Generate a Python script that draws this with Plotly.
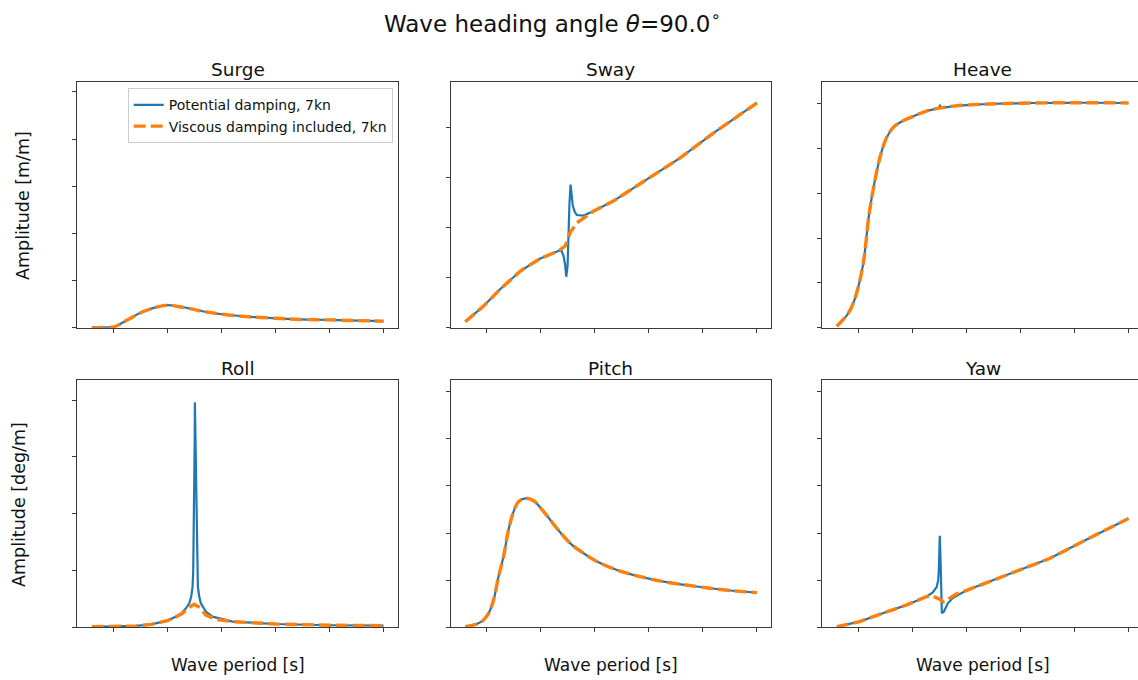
import plotly.graph_objects as go

W, H = 1138, 680

# ---------------- data: wave period [s] vs response amplitude ----------------
# Surge [m/m]
surge_T = [3.0, 4.0, 5.1, 5.7, 6.5, 7.4, 8.2, 8.9, 10.0, 11.1, 12.0, 13.0, 14.0,
           15.1, 17.3, 20.0, 22.2, 25.0, 27.7, 30.0]
surge_pot = [0.0, 0.001, 0.004, 0.018, 0.038, 0.061, 0.076, 0.086, 0.096, 0.089,
             0.082, 0.072, 0.064, 0.057, 0.047, 0.040, 0.035, 0.033, 0.030, 0.028]
surge_visc = [0.0, 0.001, 0.004, 0.018, 0.038, 0.061, 0.076, 0.086, 0.096, 0.089,
              0.082, 0.072, 0.064, 0.057, 0.047, 0.040, 0.035, 0.033, 0.030, 0.028]

# Sway [m/m]
sway_T_pot = [3.0, 4.0, 4.7, 6.2, 8.1, 9.9, 11.0, 11.6, 11.9, 12.1, 12.25, 12.35,
              12.47, 12.55, 12.65, 12.75, 12.85, 12.96, 13.15, 13.33, 13.95, 14.9,
              16.7, 19.8, 22.9, 26.0, 30.0]
sway_pot = [0.024, 0.063, 0.087, 0.153, 0.227, 0.276, 0.296, 0.307, 0.309, 0.287,
            0.250, 0.204, 0.247, 0.410, 0.500, 0.573, 0.513, 0.487, 0.463, 0.451,
            0.449, 0.467, 0.507, 0.593, 0.680, 0.780, 0.900]
sway_T_visc = [3.0, 4.0, 4.7, 6.2, 8.1, 9.9, 11.0, 11.6, 12.25, 12.7, 13.33, 14.2,
               14.9, 16.7, 19.8, 22.9, 26.0, 30.0]
sway_visc = [0.024, 0.063, 0.087, 0.153, 0.227, 0.276, 0.296, 0.307, 0.327, 0.380,
             0.420, 0.447, 0.467, 0.507, 0.593, 0.680, 0.780, 0.900]

# Heave [m/m]
heave_T_pot = [3.0, 3.4, 4.0, 4.6, 5.4, 6.0, 6.6, 7.1, 7.6, 8.2, 8.8, 10.0, 11.3,
               12.45, 12.55, 12.65, 14.0, 16.2, 18.1, 21.1, 25.8, 30.0]
heave_pot = [0.007, 0.027, 0.060, 0.120, 0.275, 0.513, 0.677, 0.780, 0.848, 0.893,
             0.915, 0.942, 0.967, 0.982, 0.992, 0.983, 0.990, 0.997, 1.000, 1.003,
             1.004, 1.003]
heave_T_visc = [3.0, 3.4, 4.0, 4.6, 5.4, 6.0, 6.6, 7.1, 7.6, 8.2, 8.8, 10.0, 11.3,
                12.5, 14.0, 16.2, 18.1, 21.1, 25.8, 30.0]
heave_visc = [0.007, 0.027, 0.060, 0.120, 0.275, 0.513, 0.677, 0.780, 0.848, 0.893,
              0.915, 0.942, 0.967, 0.980, 0.990, 0.997, 1.000, 1.003, 1.004, 1.003]

# Roll [deg/m]
roll_T_pot = [3.0, 5.0, 7.1, 8.5, 9.25, 10.0, 10.8, 11.3, 11.708, 12.015, 12.2,
              12.323, 12.385, 12.431, 12.462, 12.492, 12.523, 12.538, 12.585,
              12.615, 12.646, 12.677, 12.723, 12.815, 12.938, 13.09, 13.55, 14.17,
              15.4, 16.0, 20.0, 25.0, 30.0]
roll_pot = [0.05, 0.08, 0.12, 0.26, 0.41, 0.59, 0.94, 1.23, 1.67, 2.11, 2.70, 3.58,
            5.04, 7.98, 10.91, 13.84, 16.77, 19.79, 16.77, 13.84, 10.91, 7.98, 5.04,
            3.58, 2.70, 2.11, 1.38, 0.94, 0.65, 0.50, 0.29, 0.18, 0.15]
roll_T_visc = [3.0, 5.0, 7.1, 8.5, 9.25, 10.0, 10.8, 11.4, 12.0, 12.48, 12.94,
               13.55, 14.5, 16.0, 20.0, 25.0, 30.0]
roll_visc = [0.05, 0.08, 0.12, 0.26, 0.41, 0.59, 0.94, 1.23, 1.76, 2.02, 1.76, 1.08,
             0.70, 0.50, 0.29, 0.18, 0.15]

# Pitch [deg/m]
pitch_T = [3.0, 4.07, 4.69, 5.15, 5.62, 6.08, 6.54, 7.0, 7.47, 7.93, 8.55, 9.32,
           10.25, 11.48, 12.72, 13.95, 15.19, 17.04, 18.9, 21.36, 24.44, 27.53, 30.0]
pitch_pot = [0.003, 0.014, 0.031, 0.059, 0.116, 0.215, 0.300, 0.413, 0.491, 0.533,
             0.547, 0.537, 0.491, 0.420, 0.356, 0.314, 0.279, 0.243, 0.218, 0.194,
             0.173, 0.156, 0.147]
pitch_visc = [0.003, 0.014, 0.031, 0.059, 0.116, 0.215, 0.300, 0.413, 0.491, 0.533,
              0.547, 0.537, 0.491, 0.420, 0.356, 0.314, 0.279, 0.243, 0.218, 0.194,
              0.173, 0.156, 0.147]

# Yaw [deg/m]
yaw_T_pot = [3.0, 5.1, 7.25, 9.41, 11.27, 11.88, 12.25, 12.38, 12.44, 12.53, 12.59,
             12.65, 12.72, 12.9, 13.27, 13.73, 14.97, 17.44, 19.9, 22.7, 25.77, 30.0]
yaw_pot = [0.0014, 0.012, 0.030, 0.047, 0.065, 0.074, 0.086, 0.100, 0.122, 0.194,
           0.150, 0.065, 0.030, 0.033, 0.051, 0.062, 0.078, 0.100, 0.122, 0.146,
           0.182, 0.231]
yaw_T_visc = [3.0, 5.1, 7.25, 9.41, 11.27, 11.88, 12.35, 12.9, 13.43, 14.04, 14.97,
              17.44, 19.9, 22.7, 25.77, 30.0]
yaw_visc = [0.0014, 0.012, 0.030, 0.047, 0.065, 0.066, 0.0615, 0.054, 0.0615, 0.0707,
            0.078, 0.100, 0.122, 0.146, 0.182, 0.231]

x_ticks = [5, 10, 15, 20, 25, 30]
legend_pot = "Potential damping, 7kn"
legend_visc = "Viscous damping included, 7kn"

# ---------------- layout helpers (pixel -> paper) ----------------
def px_x(x):
    return x / W


def px_y(y):
    return 1 - y / H


col_px = [(77.3, 398.0), (450.7, 770.7), (822.3, 1138.0)]
col_center = [237.6, 610.7, 982.6]
row_px = [(81.7, 327.7), (380.0, 627.3)]
row_title_y = [70, 368]
px_per_s = 10.8
x_left = 1.65

panels = [
    ("Surge", surge_T, surge_pot, surge_T, surge_visc, 0, 0, 1.043, 0.2, "spline"),
    ("Sway", sway_T_pot, sway_pot, sway_T_visc, sway_visc, 0, 1, 0.985, 0.2, "linear"),
    ("Heave", heave_T_pot, heave_pot, heave_T_visc, heave_visc, 0, 2, 1.098, 0.2, "spline"),
    ("Roll", roll_T_pot, roll_pot, roll_T_visc, roll_visc, 1, 0, 21.76, 5, "linear"),
    ("Pitch", pitch_T, pitch_pot, pitch_T, pitch_visc, 1, 1, 1.049, 0.2, "spline"),
    ("Yaw", yaw_T_pot, yaw_pot, yaw_T_visc, yaw_visc, 1, 2, 0.5247, 0.1, "linear"),
]

BLUE = "#1f77b4"
ORANGE = "#ff7f0e"
AXC = "#3a3a3a"
FONT = "DejaVu Sans"

fig = go.Figure()
layout = {}
annotations = []

for i, (name, tp, yp, tv, yv, r, c, ytop, dt, shape) in enumerate(panels):
    n = "" if i == 0 else str(i + 1)
    xa, ya = "x" + n, "y" + n
    x0, x1 = col_px[c]
    y0, y1 = row_px[r]
    fig.add_trace(go.Scatter(
        x=tp, y=yp, mode="lines", xaxis=xa, yaxis=ya,
        line=dict(color=BLUE, width=2.2, shape=shape),
        name=legend_pot, showlegend=(i == 0), hoverinfo="skip"))
    fig.add_trace(go.Scatter(
        x=tv, y=yv, mode="lines", xaxis=xa, yaxis=ya,
        line=dict(color=ORANGE, width=3.4, dash="12px,5px", shape=shape),
        name=legend_visc, showlegend=(i == 0), hoverinfo="skip"))

    x_right = x_left + (x1 - x0) / px_per_s
    layout["xaxis" + n] = dict(
        domain=[px_x(x0), px_x(x1)], anchor=ya, range=[x_left, x_right],
        tickvals=x_ticks, showticklabels=False, ticks="outside", ticklen=4,
        tickwidth=1, tickcolor=AXC, showline=True, linecolor=AXC, linewidth=1,
        mirror=True, showgrid=False, zeroline=False, fixedrange=True)
    layout["yaxis" + n] = dict(
        domain=[px_y(y1), px_y(y0)], anchor=xa, range=[0, ytop],
        tick0=0, dtick=dt, showticklabels=False, ticks="outside", ticklen=4,
        tickwidth=1, tickcolor=AXC, showline=True, linecolor=AXC, linewidth=1,
        mirror=(c != 2), showgrid=False, zeroline=False, fixedrange=True)

    # panel title
    annotations.append(dict(
        text=name, x=px_x(col_center[c]), y=px_y(row_title_y[r]),
        xref="paper", yref="paper", xanchor="center", yanchor="middle",
        showarrow=False, font=dict(size=18.5, color="#111", family=FONT)))
    # x-axis title on bottom row
    if r == 1:
        annotations.append(dict(
            text="Wave period [s]", x=px_x(col_center[c]), y=px_y(665),
            xref="paper", yref="paper", xanchor="center", yanchor="middle",
            showarrow=False, font=dict(size=17, color="#111", family=FONT)))

# y-axis titles
annotations.append(dict(
    text="Amplitude [m/m]", x=px_x(23), y=px_y(206), textangle=-90,
    xref="paper", yref="paper", xanchor="center", yanchor="middle",
    showarrow=False, font=dict(size=17.5, color="#111", family=FONT)))
annotations.append(dict(
    text="Amplitude [deg/m]", x=px_x(19), y=px_y(505), textangle=-90,
    xref="paper", yref="paper", xanchor="center", yanchor="middle",
    showarrow=False, font=dict(size=17.5, color="#111", family=FONT)))

# figure title
annotations.append(dict(
    text="Wave heading angle <i>θ</i>=90.0<sup>∘</sup>", x=px_x(552.5), y=px_y(22),
    xref="paper", yref="paper", xanchor="center", yanchor="middle",
    showarrow=False, font=dict(size=23, color="#111", family=FONT)))

fig.update_layout(
    **layout,
    width=W, height=H,
    margin=dict(l=0, r=0, t=0, b=0),
    paper_bgcolor="white", plot_bgcolor="white",
    font=dict(family=FONT, color="#111"),
    annotations=annotations,
    legend=dict(
        x=px_x(127.7), y=px_y(88.3), xanchor="left", yanchor="top",
        bgcolor="rgba(255,255,255,0.85)", bordercolor="#cccccc", borderwidth=1,
        font=dict(size=14, family=FONT, color="#111"), tracegroupgap=0,
        itemwidth=30),
)

fig.write_html("out.html", config={"displayModeBar": False})
